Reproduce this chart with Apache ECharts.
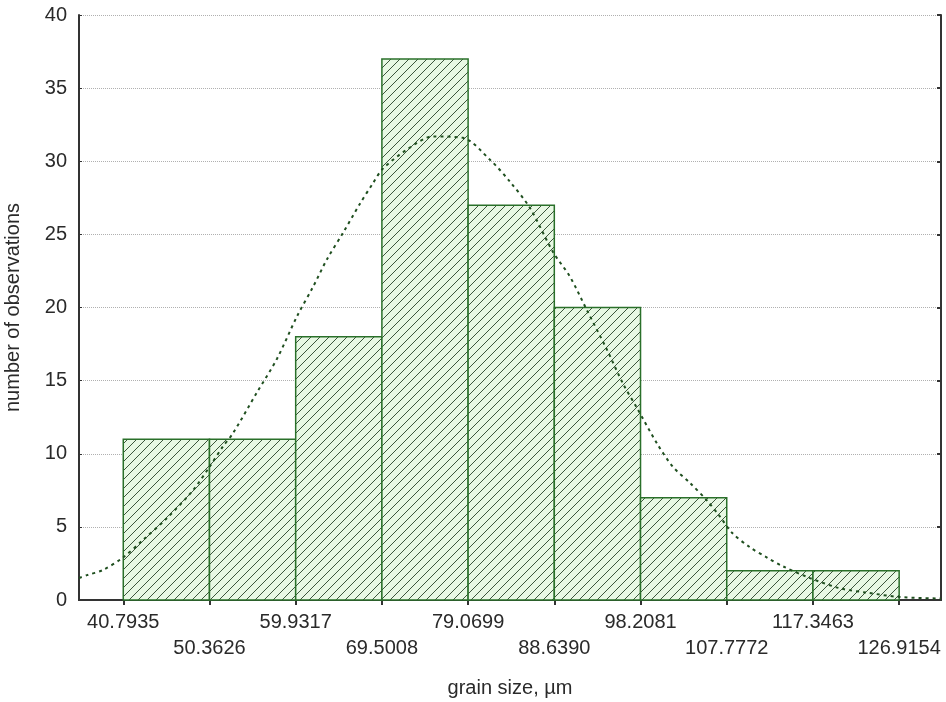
<!DOCTYPE html>
<html>
<head>
<meta charset="utf-8">
<script src="https://cdn.jsdelivr.net/npm/echarts@6/dist/echarts.min.js"></script>
<style>
  html, body { margin: 0; padding: 0; background: #ffffff; }
  #chart { width: 946px; height: 702px; }
</style>
</head>
<body>
<div id="chart"></div>
<script>
// ---- data ----
const edgeLabels = ['40.7935', '50.3626', '59.9317', '69.5008', '79.0699', '88.6390', '98.2081', '107.7772', '117.3463', '126.9154'];
const counts = [11, 11, 18, 37, 27, 20, 7, 2, 2];
const curveX = [35.88, 36.77, 38.54, 40.76, 42.98, 45.64, 48.53, 50.36, 51.86, 52.97, 55.64, 57.86, 60.08, 61.85, 63.41, 65.18, 67.07, 68.51, 69.62, 72.29, 75.17, 78.50, 81.50, 83.72, 85.94, 88.49, 90.38, 92.27, 94.49, 96.26, 97.93, 100.04, 101.81, 103.70, 105.59, 107.03, 108.36, 110.36, 112.25, 114.02, 117.02, 120.35, 123.35, 127.01, 131.56];
const curveY = [1.5, 1.7, 2.05, 2.9, 4.1, 5.6, 7.5, 9.1, 10.5, 11.4, 14.2, 16.5, 19.4, 21.4, 23.3, 25.1, 27.1, 28.5, 29.5, 30.8, 31.7, 31.6, 30.1, 28.6, 26.8, 23.8, 22.1, 19.8, 17.1, 14.8, 13.0, 10.7, 9.1, 8.0, 6.8, 5.7, 4.6, 3.6, 2.9, 2.3, 1.5, 0.8, 0.5, 0.2, 0.1];
const xMin = 35.88, xMax = 131.56;
const yTicks = [0, 5, 10, 15, 20, 25, 30, 35, 40];

// ---- derived ----
const edges = edgeLabels.map(Number);
const bins = counts.map((c, i) => [edges[i], edges[i + 1], c]);
const curve = curveX.map((x, i) => [x, curveY[i]]);

// hatch pattern
function makeHatch() {
  const s = 9;
  const c = document.createElement('canvas');
  c.width = s; c.height = s;
  const g = c.getContext('2d');
  g.fillStyle = '#e8f8e4';
  g.fillRect(0, 0, s, s);
  g.strokeStyle = '#3c553c';
  g.lineWidth = 1;
  g.beginPath();
  g.moveTo(-1, s + 1); g.lineTo(s + 1, -1);
  g.moveTo(-1, 1); g.lineTo(1, -1);
  g.moveTo(s - 1, s + 1); g.lineTo(s + 1, s - 1);
  g.stroke();
  return c;
}
const hatch = makeHatch();

const font = 'Liberation Sans, Arial, sans-serif';
const textColor = '#2a2a2a';

const chart = echarts.init(document.getElementById('chart'), null, { renderer: 'canvas' });
chart.setOption({
  backgroundColor: '#ffffff',
  animation: false,
  grid: { left: 79, right: 5, top: 15, bottom: 102, containLabel: false, outerBoundsMode: 'none' },
  xAxis: [{
    type: 'value',
    min: xMin, max: xMax,
    position: 'bottom',
    name: 'grain size, µm',
    nameLocation: 'middle',
    nameGap: 78,
    nameTextStyle: { fontFamily: font, fontSize: 20, color: textColor },
    axisLine: { show: true, onZero: false, lineStyle: { color: '#333', width: 2 } },
    axisTick: { show: false },
    minorTick: { show: false },
    splitLine: { show: false },
    axisLabel: {
      customValues: edges,
      margin: 9,
      fontFamily: font, fontSize: 20, color: textColor,
      lineHeight: 26,
      formatter: function (v) {
        let idx = edges.findIndex(e => Math.abs(e - v) < 1e-6);
        if (idx < 0) return '';
        return idx % 2 === 1 ? '\n' + edgeLabels[idx] : edgeLabels[idx];
      }
    }
  }, {
    type: 'value',
    min: xMin, max: xMax,
    position: 'top',
    axisLine: { show: true, lineStyle: { color: '#333', width: 2 } },
    axisTick: { show: true, inside: true, length: 5, customValues: edges, lineStyle: { color: '#333', width: 2 } },
    axisLabel: { show: false },
    splitLine: { show: false }
  }],
  yAxis: [{
    type: 'value',
    min: 0, max: 40, interval: 5,
    position: 'left',
    name: 'number of observations',
    nameLocation: 'middle',
    nameGap: 56,
    nameRotate: 90,
    nameTextStyle: { fontFamily: font, fontSize: 20, color: textColor },
    axisLine: { show: true, lineStyle: { color: '#333', width: 2 } },
    axisTick: { show: true, inside: true, length: 3, lineStyle: { color: '#333' } },
    axisLabel: { margin: 12, fontFamily: font, fontSize: 20, color: textColor,
      customValues: yTicks, formatter: v => String(v) },
    splitLine: { show: true, lineStyle: { color: '#b0b0b0', type: 'dotted', width: 1 } }
  }, {
    type: 'value',
    min: 0, max: 40, interval: 5,
    position: 'right',
    axisLine: { show: true, lineStyle: { color: '#333', width: 2 } },
    axisTick: { show: true, inside: true, length: 4, lineStyle: { color: '#333', width: 2 } },
    axisLabel: { show: false },
    splitLine: { show: false }
  }],
  series: [{
    type: 'custom',
    xAxisIndex: 0, yAxisIndex: 0,
    data: bins,
    encode: { x: [0, 1], y: 2 },
    renderItem: function (params, api) {
      const p0 = api.coord([api.value(0), api.value(2)]);
      const p1 = api.coord([api.value(1), 0]);
      return {
        type: 'rect',
        shape: { x: p0[0], y: p0[1], width: p1[0] - p0[0], height: p1[1] - p0[1] },
        style: { fill: { image: hatch, repeat: 'repeat' }, stroke: '#2a702a', lineWidth: 1.5 }
      };
    },
    z: 2
  }, {
    type: 'line',
    xAxisIndex: 0, yAxisIndex: 0,
    data: curve,
    smooth: 0.3,
    showSymbol: false,
    symbol: 'none',
    lineStyle: { color: '#1f4f1f', width: 2, type: [3, 4] },
    z: 3
  }]
});
</script>
</body>
</html>
